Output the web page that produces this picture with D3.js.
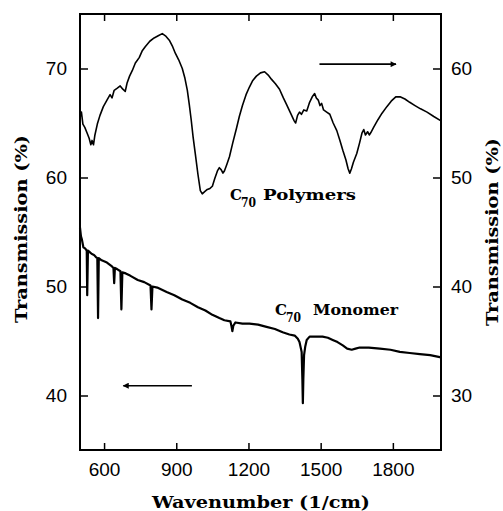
<!DOCTYPE html>
<html>
<head>
<meta charset="utf-8">
<script src="https://cdn.jsdelivr.net/npm/d3@7"></script>
<style>
  html, body { margin: 0; padding: 0; background: #fff; }
  svg { display: block; }
  .tick text { font-family: "Liberation Sans", Arial, sans-serif; font-size: 19px; fill: #000; }
  .lbl { font-family: "DejaVu Serif", serif; font-weight: bold; fill: #000; }
</style>
</head>
<body>
<svg id="chart" width="503" height="511"></svg>
<script>
// ---- data ----
const xTicks = [600, 900, 1200, 1500, 1800];
const leftTicks = [40, 50, 60, 70];
const rightTicks = [30, 40, 50, 60];

// C70 polymers (right axis)
const polymerWavenumber = [500,506,512,520,529,538,545,550,556,562,572,583,597,612,625,633,642,655,667,678,688,692,696,706,717,730,746,758,771,790,808,825,842,855,871,885,896,910,925,936,946,954,962,970,979,990,1000,1008,1018,1029,1040,1050,1060,1071,1079,1087,1094,1100,1110,1121,1135,1150,1162,1175,1190,1204,1218,1233,1250,1267,1282,1296,1312,1329,1345,1358,1375,1390,1396,1404,1412,1420,1430,1442,1448,1454,1465,1475,1482,1490,1497,1504,1512,1525,1538,1552,1567,1580,1592,1605,1614,1621,1628,1636,1650,1662,1672,1679,1686,1695,1702,1708,1720,1738,1755,1775,1793,1812,1830,1850,1870,1892,1915,1942,1970,2000];
const polymerTransmission = [55.5,56.0,54.9,54.6,54.1,53.6,53.0,53.4,53.0,53.9,54.9,55.7,56.5,57.1,57.6,57.3,58.0,58.2,58.4,58.1,57.9,58.3,58.7,59.3,59.8,60.5,61.0,61.6,62.0,62.5,62.8,63.0,63.2,63.0,62.6,62.0,61.4,60.8,60.0,59.1,58.0,56.7,55.3,53.7,52.2,50.3,48.8,48.5,48.7,48.9,49.0,49.2,49.9,50.6,50.9,50.7,50.4,50.6,51.2,51.9,53.2,54.5,55.6,56.6,57.6,58.3,58.9,59.3,59.6,59.7,59.4,59.0,58.6,58.1,57.3,56.7,55.9,55.2,55.0,55.7,56.0,55.8,56.2,56.1,56.5,56.9,57.4,57.7,57.3,57.1,56.6,56.8,56.2,56.0,55.8,55.0,54.3,53.4,52.5,51.6,50.8,50.4,50.8,51.4,52.2,53.2,54.1,54.4,53.9,54.2,53.9,54.1,54.6,55.3,55.9,56.5,57.0,57.4,57.4,57.2,56.9,56.6,56.3,56.0,55.6,55.2];

// C70 monomer (left axis)
const monomerWavenumber = [500,504,508,514,521,528,530,533,538,548,558,566,572,575,578,590,612,630,639,642,645,654,668,672,676,690,708,740,767,793,797,801,821,860,892,925,958,990,1021,1050,1079,1100,1125,1130,1133,1137,1146,1175,1204,1240,1275,1310,1342,1370,1392,1405,1412,1418,1421,1424,1426,1428,1431,1436,1442,1454,1480,1508,1530,1550,1570,1592,1610,1629,1645,1662,1700,1746,1790,1829,1870,1912,1955,2000];
const monomerTransmission = [55.4,54.6,54.3,53.6,53.5,53.3,49.2,53.3,53.2,53.0,52.9,52.7,52.6,47.1,52.6,52.4,52.2,51.9,51.7,50.3,51.7,51.6,51.4,47.9,51.3,51.2,51.0,50.6,50.4,50.1,47.9,50.0,49.9,49.5,49.2,48.8,48.5,48.1,47.8,47.4,47.1,46.9,46.8,46.3,45.9,46.4,46.7,46.6,46.6,46.5,46.3,46.1,45.8,45.6,45.5,45.2,44.9,44.3,44.0,41.5,39.3,41.5,43.7,44.5,45.1,45.4,45.4,45.4,45.3,45.1,44.9,44.6,44.3,44.2,44.3,44.4,44.4,44.3,44.2,44.0,43.9,43.8,43.7,43.5];

// ---- layout ----
const L = 80, R = 441, T = 14, B = 450;
const svg = d3.select("#chart");
const x = d3.scaleLinear().domain([500, 2000]).range([L, R]);
const yL = d3.scaleLinear().domain([35, 75]).range([B, T]);
const yR = d3.scaleLinear().domain([25, 65]).range([B, T]);

// axes (ticks inward)
function styleAxis(g) {
  g.select(".domain").remove();
  g.selectAll(".tick line").attr("stroke", "#000").attr("stroke-width", 1.5);
}
svg.append("g").attr("transform", `translate(0,${B})`)
  .call(d3.axisBottom(x).tickValues(xTicks).tickSize(-7).tickPadding(13).tickFormat(d3.format("d")))
  .call(styleAxis);
svg.append("g").attr("transform", `translate(0,${T})`)
  .call(d3.axisTop(x).tickValues(xTicks).tickSize(-7).tickFormat(""))
  .call(styleAxis);
svg.append("g").attr("transform", `translate(${L},0)`)
  .call(d3.axisLeft(yL).tickValues(leftTicks).tickSize(-8).tickPadding(13))
  .call(styleAxis);
svg.append("g").attr("transform", `translate(${R},0)`)
  .call(d3.axisRight(yR).tickValues(rightTicks).tickSize(-8).tickPadding(10))
  .call(styleAxis);

// frame
svg.append("rect").attr("x", L).attr("y", T).attr("width", R - L).attr("height", B - T)
  .attr("fill", "none").attr("stroke", "#000").attr("stroke-width", 2);

// curves
const polyLine = d3.line().x((d, i) => x(polymerWavenumber[i])).y((d, i) => yR(polymerTransmission[i]));
const monoLine = d3.line().x((d, i) => x(monomerWavenumber[i])).y((d, i) => yL(monomerTransmission[i]));
svg.append("path").attr("d", polyLine(polymerWavenumber))
  .attr("fill", "none").attr("stroke", "#000").attr("stroke-width", 1.6).attr("stroke-linejoin", "round");
svg.append("path").attr("d", monoLine(monomerWavenumber))
  .attr("fill", "none").attr("stroke", "#000").attr("stroke-width", 2.2).attr("stroke-linejoin", "round");

// arrows
const defs = svg.append("defs");
defs.append("marker").attr("id", "ah").attr("viewBox", "0 0 10 10").attr("refX", 9).attr("refY", 5)
  .attr("markerWidth", 9).attr("markerHeight", 6).attr("markerUnits", "userSpaceOnUse").attr("orient", "auto")
  .append("path").attr("d", "M0,0 L10,5 L0,10 Z").attr("fill", "#000");
svg.append("line").attr("x1", x(1495)).attr("x2", x(1813)).attr("y1", yR(60.4)).attr("y2", yR(60.4))
  .attr("stroke", "#000").attr("stroke-width", 1.6).attr("marker-end", "url(#ah)");
svg.append("line").attr("x1", x(965)).attr("x2", x(680)).attr("y1", yL(40.9)).attr("y2", yL(40.9))
  .attr("stroke", "#000").attr("stroke-width", 1.6).attr("marker-end", "url(#ah)");

// annotations
function c70(xC, yBase, word, wordX, wordLen) {
  svg.append("text").attr("class", "lbl").attr("x", xC).attr("y", yBase).attr("font-size", 15).text("C");
  svg.append("text").attr("class", "lbl").attr("x", xC + 11).attr("y", yBase + 7).attr("font-size", 12)
    .attr("textLength", 15).attr("lengthAdjust", "spacingAndGlyphs").text("70");
  svg.append("text").attr("class", "lbl").attr("x", wordX).attr("y", yBase).attr("font-size", 15)
    .attr("textLength", wordLen).attr("lengthAdjust", "spacingAndGlyphs").text(word);
}
c70(230, 200, "Polymers", 263, 93);
c70(275, 315, "Monomer", 313, 85);

// axis titles
svg.append("text").attr("class", "lbl").attr("x", 261).attr("y", 508).attr("text-anchor", "middle")
  .attr("font-size", 16).attr("textLength", 218).attr("lengthAdjust", "spacingAndGlyphs").text("Wavenumber (1/cm)");
svg.append("text").attr("class", "lbl").attr("transform", "translate(27,229) rotate(-90)")
  .attr("text-anchor", "middle").attr("font-size", 16).attr("textLength", 188).attr("lengthAdjust", "spacingAndGlyphs")
  .text("Transmission (%)");
svg.append("text").attr("class", "lbl").attr("transform", "translate(498,232) rotate(-90)")
  .attr("text-anchor", "middle").attr("font-size", 16).attr("textLength", 188).attr("lengthAdjust", "spacingAndGlyphs")
  .text("Transmission (%)");
</script>
</body>
</html>
